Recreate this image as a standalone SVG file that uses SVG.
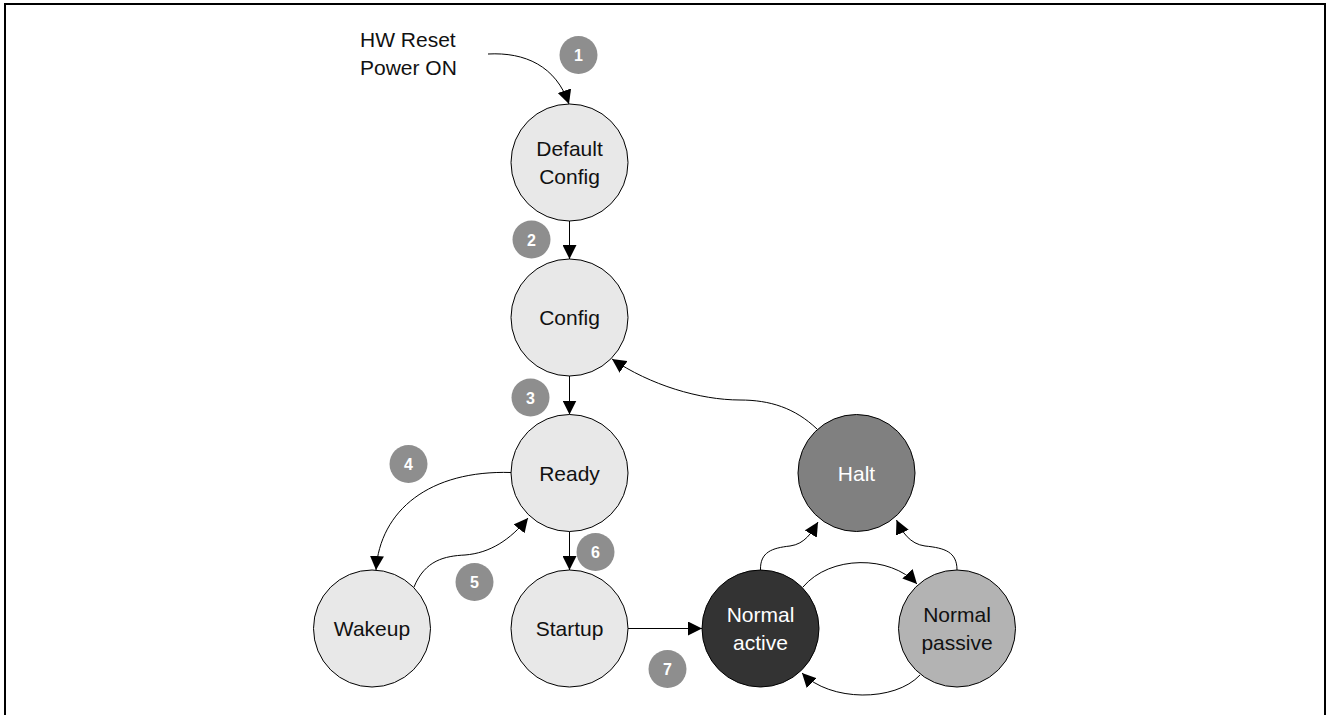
<svg xmlns="http://www.w3.org/2000/svg" width="1326" height="715" viewBox="0 0 1326 715">
  <style>
    .state { stroke: #000; stroke-width: 1; }
    .light { fill: #e8e8e8; }
    .halt { fill: #808080; }
    .active { fill: #333333; }
    .passive { fill: #b3b3b3; }
    .lbl { font-family: "Liberation Sans", Arial, sans-serif; font-size: 21px; text-anchor: middle; fill: #111; }
    .lbl.inv { fill: #fff; }
    .note { font-family: "Liberation Sans", Arial, sans-serif; font-size: 21px; fill: #111; }
    .badge circle { fill: #8e8e8e; }
    .badge text { font-family: "Liberation Sans", Arial, sans-serif; font-size: 16px; font-weight: bold; text-anchor: middle; fill: #fff; }
    .edge { fill: none; stroke: #000; stroke-width: 1; marker-end: url(#arrow); }
  </style>
  <defs>
    <marker id="arrow" markerUnits="userSpaceOnUse" markerWidth="14" markerHeight="14" viewBox="0 0 13 13" refX="13" refY="6.5" orient="auto">
      <path d="M0,0 L13,6.5 L0,13 z" fill="#000"/>
    </marker>
  </defs>

  <rect width="1326" height="715" fill="#fff"/>
  <!-- frame: open at the bottom -->
  <path d="M5,715 V4 H1325 V715" fill="none" stroke="#000" stroke-width="2"/>

  <!-- transitions -->
  <g id="connectors">
    <path class="edge" d="M488,54 C525,52 556,66 569,104"/>
    <path class="edge" d="M569.5,221 V259"/>
    <path class="edge" d="M569.5,376 V414.5"/>
    <path class="edge" d="M817,429 C795,408 770,400 740,400 C700,400 650,385 612,359"/>
    <path class="edge" d="M511,472.5 C430,470 380,510 376,570"/>
    <path class="edge" d="M414,587 C425,560 445,556 465,555 C490,553 510,540 528,518"/>
    <path class="edge" d="M569.5,531.5 V570"/>
    <path class="edge" d="M628,628.5 H702"/>
    <path class="edge" d="M760.5,570 C760,552 772,548 790,546 C805,544 812,532 818,522"/>
    <path class="edge" d="M957,570 C957,552 945,548 925,546 C910,544 902,532 896.5,520"/>
    <path class="edge" d="M803,587 C830,555 890,555 917,584"/>
    <path class="edge" d="M920,675 C895,702 830,702 802,673"/>
  </g>

  <g id="reset-note">
    <text class="note" x="360" y="47">HW Reset</text>
    <text class="note" x="360" y="75">Power ON</text>
  </g>

  <!-- states -->
  <g id="default-config">
    <circle class="state light" cx="569.5" cy="162.5" r="58.5"/>
    <text class="lbl" x="569.5" y="155.5">Default</text>
    <text class="lbl" x="569.5" y="183.5">Config</text>
  </g>
  <g id="config">
    <circle class="state light" cx="569.5" cy="317.5" r="58.5"/>
    <text class="lbl" x="569.5" y="325">Config</text>
  </g>
  <g id="ready">
    <circle class="state light" cx="569.5" cy="473" r="58.5"/>
    <text class="lbl" x="569.5" y="480.5">Ready</text>
  </g>
  <g id="wakeup">
    <circle class="state light" cx="372" cy="628.5" r="58.5"/>
    <text class="lbl" x="372" y="636">Wakeup</text>
  </g>
  <g id="startup">
    <circle class="state light" cx="569.5" cy="628.5" r="58.5"/>
    <text class="lbl" x="569.5" y="636">Startup</text>
  </g>
  <g id="halt">
    <circle class="state halt" cx="856.5" cy="473" r="58.5"/>
    <text class="lbl inv" x="856.5" y="480.5">Halt</text>
  </g>
  <g id="normal-active">
    <circle class="state active" cx="760.5" cy="628.5" r="58.5"/>
    <text class="lbl inv" x="760.5" y="621.5">Normal</text>
    <text class="lbl inv" x="760.5" y="649.5">active</text>
  </g>
  <g id="normal-passive">
    <circle class="state passive" cx="957" cy="628.5" r="58.5"/>
    <text class="lbl" x="957" y="621.5">Normal</text>
    <text class="lbl" x="957" y="649.5">passive</text>
  </g>

  <!-- step numbers -->
  <g id="badge-1" class="badge"><circle cx="578.5" cy="55" r="19"/><text x="578.5" y="61">1</text></g>
  <g id="badge-2" class="badge"><circle cx="531.5" cy="239.5" r="19"/><text x="531.5" y="245.5">2</text></g>
  <g id="badge-3" class="badge"><circle cx="530.5" cy="397.5" r="19"/><text x="530.5" y="403.5">3</text></g>
  <g id="badge-4" class="badge"><circle cx="408.5" cy="464" r="19"/><text x="408.5" y="470">4</text></g>
  <g id="badge-5" class="badge"><circle cx="474.5" cy="582" r="19"/><text x="474.5" y="588">5</text></g>
  <g id="badge-6" class="badge"><circle cx="595.5" cy="552" r="19"/><text x="595.5" y="558">6</text></g>
  <g id="badge-7" class="badge"><circle cx="667.5" cy="669" r="19"/><text x="667.5" y="675">7</text></g>
</svg>
